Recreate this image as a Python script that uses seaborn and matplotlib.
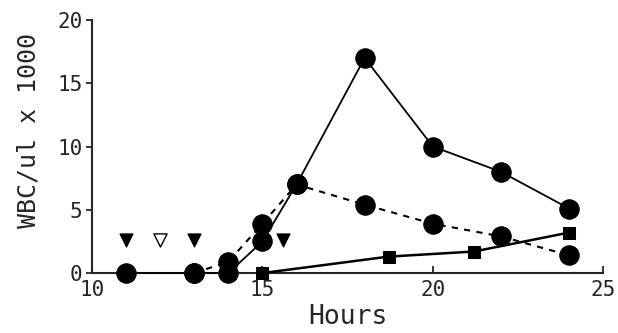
import matplotlib
matplotlib.use('Agg')
import matplotlib.pyplot as plt
import seaborn as sns
import pandas as pd

sns.set_style('ticks')
plt.rcParams['font.family'] = ['DejaVu Sans Mono', 'DejaVu Sans']

# data
hours_solid = [11, 13, 14, 15, 16, 18, 20, 22, 24]
wbc_solid = [0, 0, 0, 2.5, 7, 17, 10, 8, 5.1]

hours_dashed = [13, 14, 15, 16, 18, 20, 22, 24]
wbc_dashed = [0, 0.9, 3.9, 7, 5.4, 3.9, 2.9, 1.4]

hours_square = [15, 18.7, 21.2, 24]
wbc_square = [0, 1.3, 1.7, 3.2]

tri_filled_hours = [11, 13, 15.6]
tri_open_hours = [12]
tri_level = 2.6

df_solid = pd.DataFrame({'Hours': hours_solid, 'WBC': wbc_solid})
df_dashed = pd.DataFrame({'Hours': hours_dashed, 'WBC': wbc_dashed})
df_square = pd.DataFrame({'Hours': hours_square, 'WBC': wbc_square})
df_tri = pd.DataFrame({'Hours': tri_filled_hours, 'WBC': [tri_level] * len(tri_filled_hours)})
df_tri_open = pd.DataFrame({'Hours': tri_open_hours, 'WBC': [tri_level] * len(tri_open_hours)})

fig = plt.figure(figsize=(6.18, 3.33), dpi=100)
ax = fig.add_axes([0.149, 0.18, 0.827, 0.76])

sns.lineplot(data=df_square, x='Hours', y='WBC', ax=ax, color='black', lw=1.8,
             marker='s', markersize=9, markeredgecolor='black')
sns.lineplot(data=df_dashed, x='Hours', y='WBC', ax=ax, color='black', lw=1.5,
             linestyle=(0, (3, 3)), marker='o', markersize=14, markeredgecolor='black')
sns.lineplot(data=df_solid, x='Hours', y='WBC', ax=ax, color='black', lw=1.3,
             marker='o', markersize=14, markeredgecolor='black')
sns.scatterplot(data=df_tri, x='Hours', y='WBC', ax=ax, color='black',
                marker='v', s=90, edgecolor='black')
sns.scatterplot(data=df_tri_open, x='Hours', y='WBC', ax=ax, color='white',
                marker='v', s=90, edgecolor='black', linewidth=1)

ax.set_xlim(10, 25)
ax.set_ylim(0, 20)
ax.set_xticks([10, 15, 20, 25])
ax.set_yticks([0, 5, 10, 15, 20])
ax.tick_params(axis='x', direction='in', length=5, width=1.3, labelsize=15, pad=5)
ax.tick_params(axis='y', direction='out', length=4, width=1.3, labelsize=15, pad=3)
for s in ['top', 'right']:
    ax.spines[s].set_visible(False)
for s in ['left', 'bottom']:
    ax.spines[s].set_linewidth(1.5)
ax.spines['left'].set_zorder(0)
ax.spines['bottom'].set_zorder(0)
for line in ax.lines:
    line.set_clip_on(False)
for c in ax.collections:
    c.set_clip_on(False)

plt.xlabel('Hours', fontsize=19, labelpad=3)
plt.ylabel('WBC/ul x 1000', fontsize=18)
ax.yaxis.set_label_coords(-0.1, 0.565)

fig.savefig('out.png', dpi=100)
